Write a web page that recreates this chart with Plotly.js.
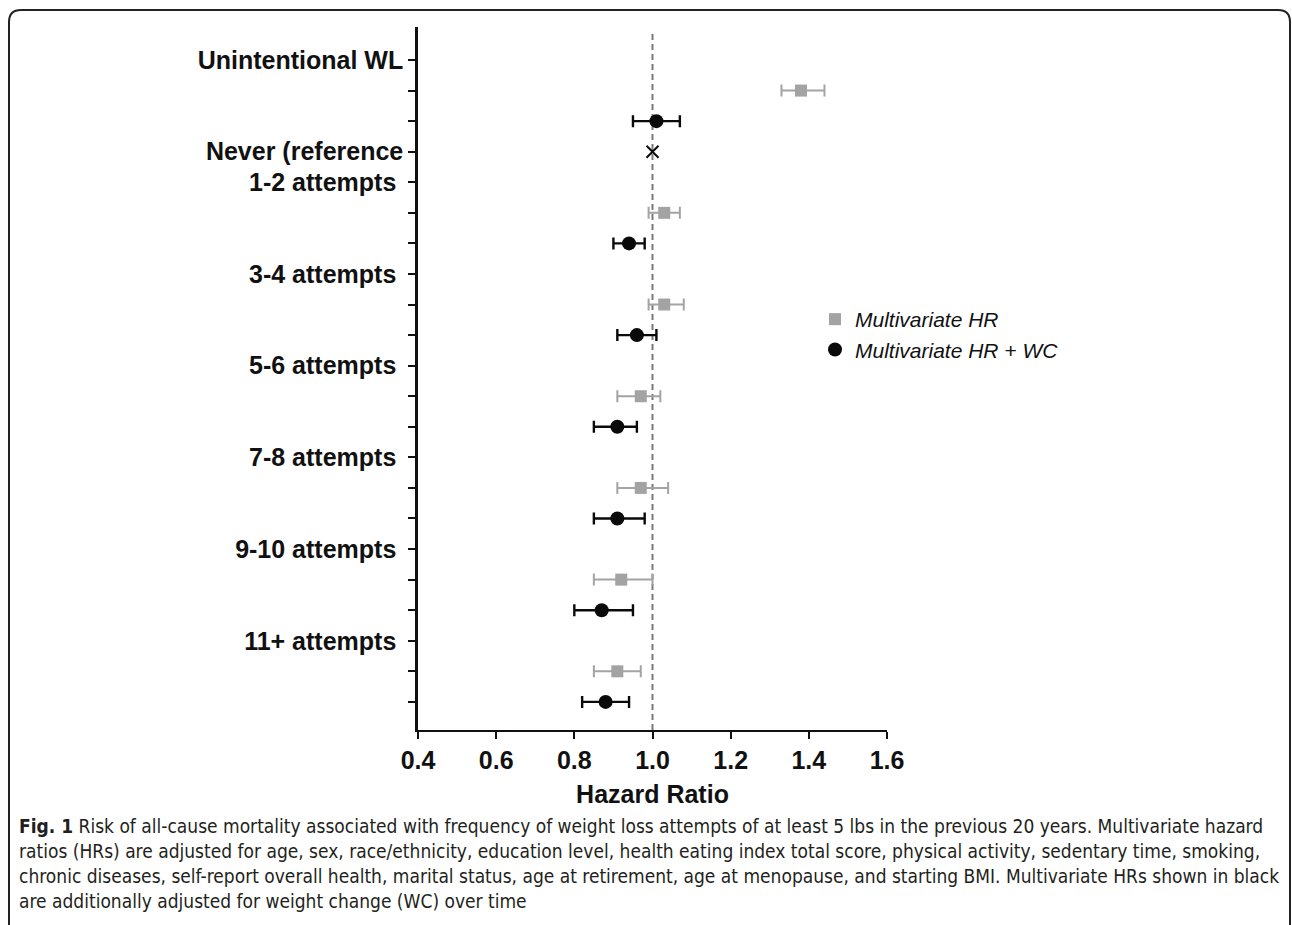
<!DOCTYPE html>
<html>
<head>
<meta charset="utf-8">
<script src="https://cdn.plot.ly/plotly-3.0.1.min.js"></script>
<style>
  html, body { margin: 0; padding: 0; background: #ffffff; }
  #chart { width: 1292px; height: 925px; }
</style>
</head>
<body>
<div id="chart"></div>
<script>
// ---------------- data ----------------
const groups = ['Unintentional WL', '1-2 attempts', '3-4 attempts', '5-6 attempts', '7-8 attempts', '9-10 attempts', '11+ attempts'];
const referenceLabel = 'Never (reference';
const referenceValue = 1.0;

// Multivariate HR (grey squares)
const hrValue = [1.38, 1.03, 1.03, 0.97, 0.97, 0.92, 0.91];
const hrLow   = [1.33, 0.99, 0.99, 0.91, 0.91, 0.85, 0.85];
const hrHigh  = [1.44, 1.07, 1.08, 1.02, 1.04, 1.00, 0.97];

// Multivariate HR + WC (black circles)
const wcValue = [1.01, 0.94, 0.96, 0.91, 0.91, 0.87, 0.88];
const wcLow   = [0.95, 0.90, 0.91, 0.85, 0.85, 0.80, 0.82];
const wcHigh  = [1.07, 0.98, 1.01, 0.96, 0.98, 0.95, 0.94];

const xTicks = [0.4, 0.6, 0.8, 1.0, 1.2, 1.4, 1.6];
const xTickText = ['0.4', '0.6', '0.8', '1.0', '1.2', '1.4', '1.6'];

const legendNames = ['Multivariate HR', 'Multivariate HR + WC'];
const xTitle = 'Hazard Ratio';

const captionLines = [
  '<b>Fig. 1</b> Risk of all-cause mortality associated with frequency of weight loss attempts of at least 5 lbs in the previous 20 years. Multivariate hazard',
  'ratios (HRs) are adjusted for age, sex, race/ethnicity, education level, health eating index total score, physical activity, sedentary time, smoking,',
  'chronic diseases, self-report overall health, marital status, age at retirement, age at menopause, and starting BMI. Multivariate HRs shown in black',
  'are additionally adjusted for weight change (WC) over time'
];

// ---------------- build category rows ----------------
const rows = [];      // category keys (top to bottom)
const rowText = [];   // tick label shown
function addGroup(g) {
  rows.push(g); rowText.push(g.indexOf('attempts') >= 0 ? g + '\u00a0' : g);
  rows.push(g + ' |HR'); rowText.push('');
  rows.push(g + ' |WC'); rowText.push('');
}
addGroup(groups[0]);
rows.push(referenceLabel); rowText.push(referenceLabel);
for (let i = 1; i < groups.length; i++) addGroup(groups[i]);

const hrY = groups.map(g => g + ' |HR');
const wcY = groups.map(g => g + ' |WC');

// ---------------- geometry ----------------
const W = 1292, H = 925;
const M = {l: 418, r: 405, t: 27, b: 195};
const PW = W - M.l - M.r, PH = H - M.t - M.b;
const px = x => (x - M.l) / PW;
const py = y => (H - M.b - y) / PH;

const grey = '#a3a3a3';
const black = '#0a0a0a';

const traces = [
  {
    type: 'scatter', mode: 'markers', name: legendNames[0],
    x: hrValue, y: hrY,
    marker: {symbol: 'square', size: 12, color: grey},
    error_x: {type: 'data', symmetric: false,
      array: hrHigh.map((h, i) => h - hrValue[i]),
      arrayminus: hrLow.map((l, i) => hrValue[i] - l),
      color: grey, thickness: 2, width: 6},
    hoverinfo: 'x'
  },
  {
    type: 'scatter', mode: 'markers', name: legendNames[1],
    x: wcValue, y: wcY,
    marker: {symbol: 'circle', size: 14, color: black},
    error_x: {type: 'data', symmetric: false,
      array: wcHigh.map((h, i) => h - wcValue[i]),
      arrayminus: wcLow.map((l, i) => wcValue[i] - l),
      color: black, thickness: 2.4, width: 6},
    hoverinfo: 'x'
  },
  {
    type: 'scatter', mode: 'markers', showlegend: false,
    x: [referenceValue], y: [referenceLabel],
    marker: {symbol: 'x-thin', size: 12, color: black, line: {color: black, width: 2}},
    hoverinfo: 'x'
  }
];

const boldFont = {family: 'Liberation Sans, Arial, sans-serif', size: 25, color: '#111', weight: 'bold'};

const r = 12;
const bx0 = 9, by0 = 10, bx1 = 1290, byEnd = 960;
const borderPath =
  `M ${px(bx0)} ${py(byEnd)} L ${px(bx0)} ${py(by0 + r)} ` +
  `Q ${px(bx0)} ${py(by0)} ${px(bx0 + r)} ${py(by0)} ` +
  `L ${px(bx1 - r)} ${py(by0)} ` +
  `Q ${px(bx1)} ${py(by0)} ${px(bx1)} ${py(by0 + r)} ` +
  `L ${px(bx1)} ${py(byEnd)}`;

const captionY = [826, 851, 876, 901];
const annotations = captionLines.map((t, i) => ({
  xref: 'paper', yref: 'paper', x: px(17), y: py(captionY[i]),
  xanchor: 'left', yanchor: 'middle', align: 'left', showarrow: false,
  text: t,
  font: {family: 'Liberation Sans Narrow, DejaVu Sans Condensed, Arial Narrow, sans-serif', size: 19, color: '#231f20'}
}));

const layout = {
  width: W, height: H,
  margin: M,
  paper_bgcolor: '#ffffff', plot_bgcolor: '#ffffff',
  showlegend: true,
  legend: {
    x: px(815), y: py(299), xanchor: 'left', yanchor: 'top',
    bgcolor: 'rgba(0,0,0,0)',
    font: {family: 'Liberation Sans, Arial, sans-serif', size: 21, style: 'italic', color: '#111'},
    tracegroupgap: 0
  },
  xaxis: {
    range: [0.4, 1.6], showgrid: false, zeroline: false,
    showline: true, linecolor: '#111', linewidth: 2,
    ticks: 'outside', ticklen: 7, tickwidth: 2, tickcolor: '#111',
    tickmode: 'array', tickvals: xTicks, ticktext: xTickText,
    tickfont: boldFont,
    title: {text: xTitle, font: boldFont, standoff: 12}
  },
  yaxis: {
    type: 'category', categoryorder: 'array', categoryarray: rows,
    range: [rows.length - 0.08, -1.08],
    showgrid: false, zeroline: false,
    showline: true, linecolor: '#111', linewidth: 2.5,
    ticks: 'outside', ticklen: 7, tickwidth: 2, tickcolor: '#111',
    tickmode: 'array', tickvals: rows, ticktext: rowText,
    tickfont: boldFont
  },
  shapes: [
    {type: 'line', xref: 'x', yref: 'paper', x0: referenceValue, x1: referenceValue, y0: 0, y1: py(33),
     line: {color: '#7a7a7a', width: 2, dash: '6px,4px'}, layer: 'below'},
    {type: 'path', xref: 'paper', yref: 'paper', path: borderPath, line: {color: '#222', width: 2}}
  ],
  annotations: annotations
};

Plotly.newPlot('chart', traces, layout, {displayModeBar: false, responsive: false});
</script>
</body>
</html>
